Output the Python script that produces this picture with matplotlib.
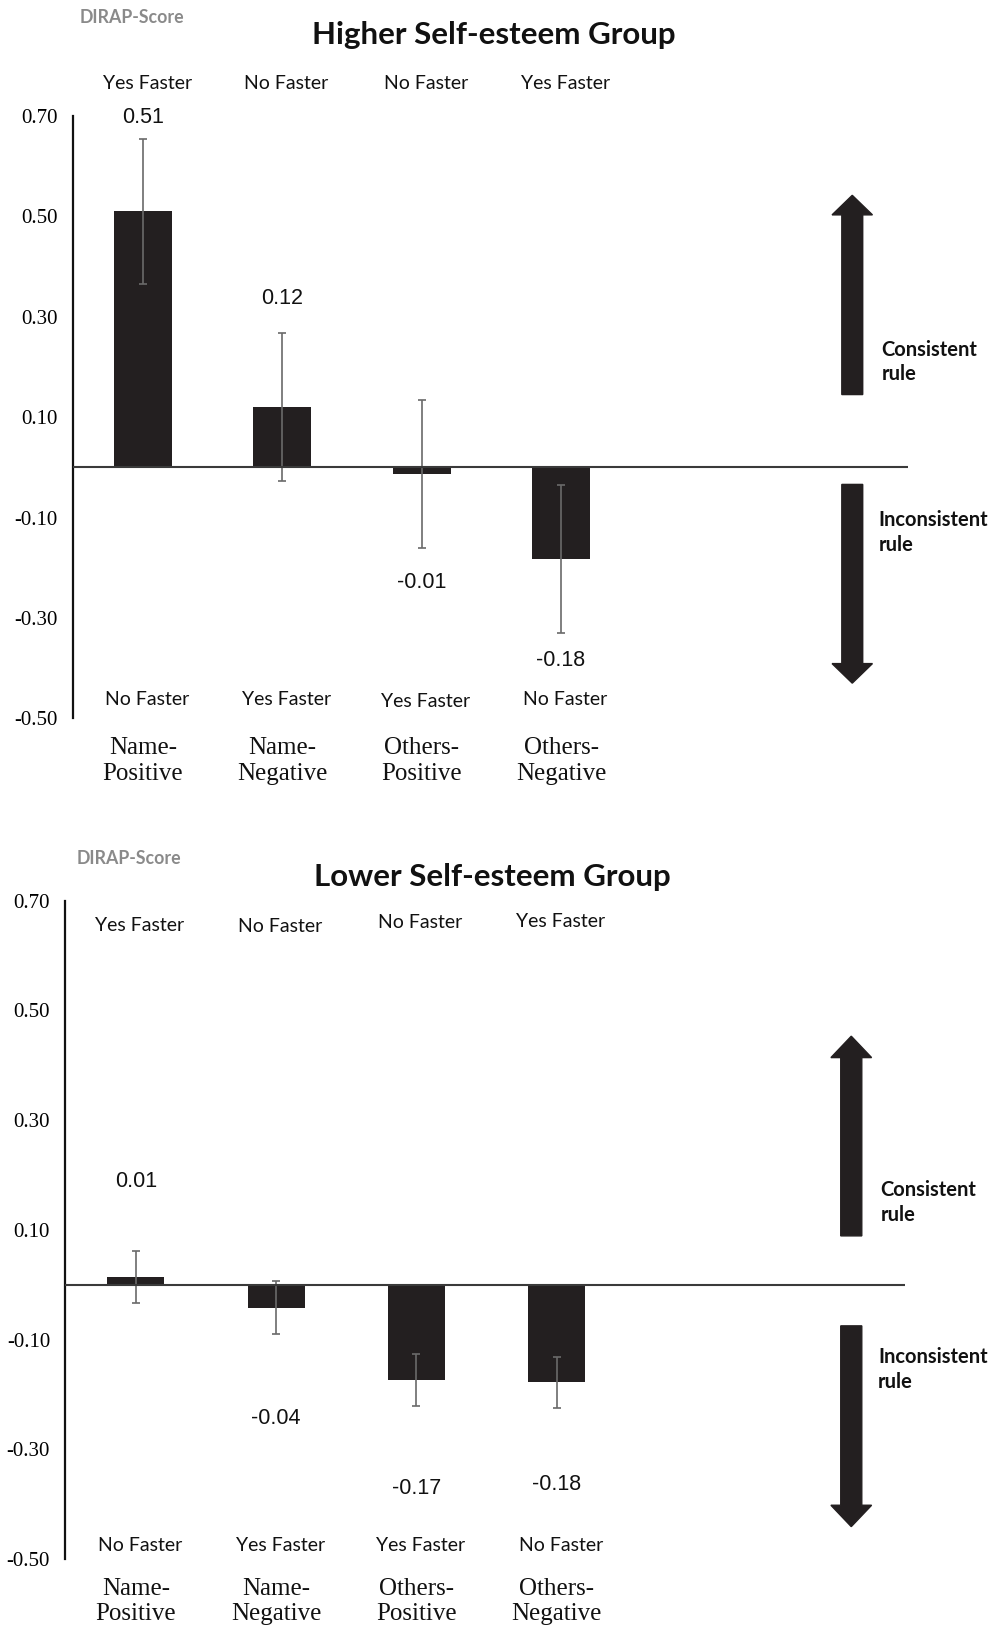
import matplotlib.pyplot as plt
import numpy as np

# Data
conditions = ['Name-\nPositive', 'Name-\nNegative', 'Others-\nPositive', 'Others-\nNegative']
top_row = ['Yes Faster', 'No Faster', 'No Faster', 'Yes Faster']
bottom_row = ['No Faster', 'Yes Faster', 'Yes Faster', 'No Faster']
yticks = [0.70, 0.50, 0.30, 0.10, -0.10, -0.30, -0.50]

high_means = [0.51, 0.12, -0.013, -0.183]
high_err = [0.145, 0.147, 0.148, 0.147]
low_means = [0.014, -0.042, -0.174, -0.178]
low_err = [0.048, 0.048, 0.048, 0.046]

W, H = 993, 1625
fig = plt.figure(figsize=(W / 100, H / 100), dpi=100)

bar_color = '#231f20'
err_color = '#6a6a6a'
sans_cal = ['Lato', 'DejaVu Sans']


def panel(rect, means, errs, title, title_y, dirap_y, xlim, width,
          label_y, top_y, bot_y, cat_y, arrows, arrow_x, txt_y):
    ax = fig.add_axes(rect)
    x = np.arange(len(means))
    ax.bar(x, means, width=width, color=bar_color, zorder=2)
    ax.errorbar(x, means, yerr=errs, fmt='none', ecolor=err_color,
                elinewidth=1.2, capsize=3, capthick=1.2, zorder=3)
    ax.axhline(0, color='#3a3a3a', lw=1.5, zorder=4)
    ax.set_xlim(*xlim)
    ax.set_ylim(-0.5, 0.7)
    ax.set_yticks(yticks)
    ax.set_yticklabels([f'{t:.2f}' for t in yticks], family='Liberation Serif',
                       fontsize=15)
    ax.tick_params(axis='y', length=0, pad=11)
    ax.set_xticks([])
    for s in ['top', 'right', 'bottom']:
        ax.spines[s].set_visible(False)
    ax.spines['left'].set_linewidth(1.6)
    ax.spines['left'].set_color('#111111')

    for i, m in enumerate(means):
        ax.text(i, label_y[i], f'{m:.2f}', ha='center', va='center',
                family='Liberation Sans', fontsize=15.5, color='#111111')
        ax.text(i + 0.03, top_y[i], top_row[i], ha='center', va='center',
                family=sans_cal, fontsize=14, color='#111111', clip_on=False)
        ax.text(i + 0.03, bot_y[i], bottom_row[i], ha='center', va='center',
                family=sans_cal, fontsize=14, color='#111111', clip_on=False)
        ax.text(i, cat_y, conditions[i], ha='center', va='center',
                family='Liberation Serif', fontsize=18, color='#111111',
                linespacing=1.2, clip_on=False)

    # direction arrows
    for (y0, y1) in arrows:
        ax.arrow(arrow_x, y0, 0, y1 - y0, width=0.15, head_width=0.29,
                 head_length=0.039, length_includes_head=True,
                 color=bar_color, clip_on=False)
    ax.text(arrow_x + 0.21, txt_y[0], 'Consistent\nrule', ha='left', va='center',
            family=sans_cal, fontsize=14.5, fontweight='bold', color='#111111',
            linespacing=1.3, clip_on=False)
    ax.text(arrow_x + 0.19, txt_y[1], 'Inconsistent\nrule', ha='left', va='center',
            family=sans_cal, fontsize=14.5, fontweight='bold', color='#111111',
            linespacing=1.3, clip_on=False)

    fig.text(title[1] / W, 1 - title_y / H, title[0], ha='center', va='center',
             family=sans_cal, fontsize=22.5, fontweight='bold', color='#111111')
    fig.text(dirap_y[0] / W, 1 - dirap_y[1] / H, 'DIRAP-Score', ha='center',
             va='center', family=sans_cal, fontsize=12.8, fontweight='bold',
             color='#8a8a8a')
    return ax


# upper panel (higher self-esteem)
panel(rect=[72.6 / W, 1 - 718.3 / H, (908 - 72.6) / W, (718.3 - 116) / H],
      means=high_means, errs=high_err,
      title=('Higher Self-esteem Group', 494), title_y=35, dirap_y=(131.6, 17.6),
      xlim=(-0.505, 5.49), width=0.416,
      label_y=[0.697, 0.336, -0.230, -0.384],
      top_y=[0.765] * 4, bot_y=[-0.463, -0.463, -0.467, -0.463], cat_y=-0.585,
      arrows=[(0.145, 0.542), (-0.034, -0.430)], arrow_x=5.09,
      txt_y=[0.21, -0.13])

# lower panel (lower self-esteem)
panel(rect=[65.3 / W, 1 - 1559 / H, (905 - 65.3) / W, (1559 - 900.7) / H],
      means=low_means, errs=low_err,
      title=('Lower Self-esteem Group', 492), title_y=877, dirap_y=(128.5, 858),
      xlim=(-0.502, 5.483), width=0.406,
      label_y=[0.188, -0.243, -0.372, -0.364],
      top_y=[0.655, 0.653, 0.660, 0.662], bot_y=[-0.475] * 4, cat_y=-0.578,
      arrows=[(0.089, 0.453), (-0.075, -0.441)], arrow_x=5.10,
      txt_y=[0.150, -0.155])

fig.savefig('out.png', dpi=100, facecolor='white')
